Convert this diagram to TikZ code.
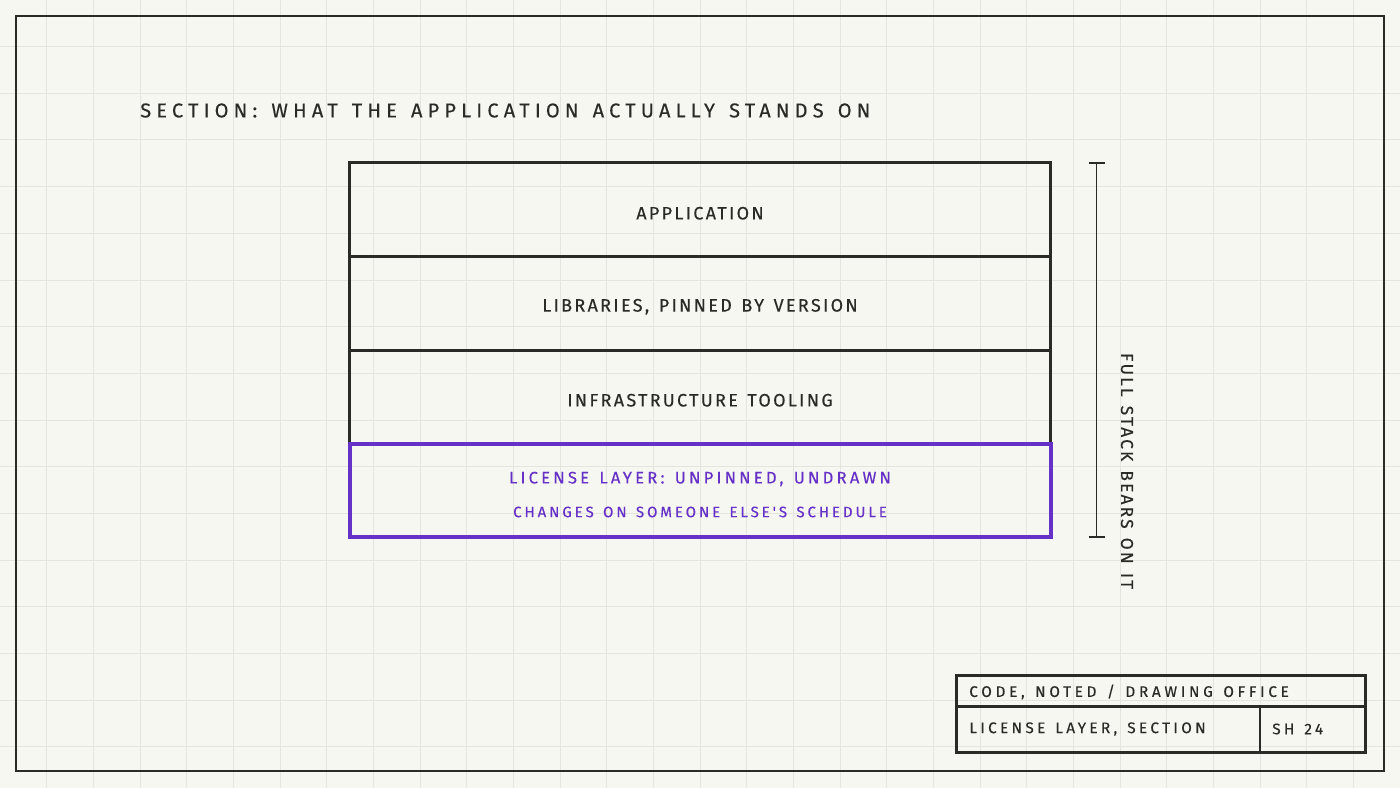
\documentclass[tikz,border=0pt]{standalone}
\usepackage{fontspec}
\setmainfont{Fira Sans}
\newfontfamily\titlef[LetterSpace=25.8, WordSpace=1.35, FakeBold=0.3]{Fira Sans}
\newfontfamily\rowf[LetterSpace=12.8, WordSpace=1.35, FakeBold=0.3]{Fira Sans}
\newfontfamily\licf[LetterSpace=19.2, WordSpace=1.35, FakeBold=0.3]{Fira Sans}
\newfontfamily\brf[LetterSpace=12.5, WordSpace=1.35, FakeBold=0.3]{Fira Sans}
\newfontfamily\blockf[LetterSpace=24.1, WordSpace=1.35, FakeBold=0.3]{Fira Sans}
\newfontfamily\blockg[LetterSpace=21.8, WordSpace=1.35, FakeBold=0.3]{Fira Sans}
\definecolor{bg}{HTML}{F7F7F2}
\definecolor{gridc}{HTML}{E5E5DF}
\definecolor{ink}{HTML}{2A2A26}
\definecolor{purp}{HTML}{6631C6}
\def\px{0.75pt}
\tikzset{
  x=0.75pt, y=-0.75pt,
  rowbox/.style={draw=ink, line width=3*\px, minimum width=701*\px, minimum height=93.5*\px, inner sep=0pt, outer sep=0pt, anchor=north west},
  rowtext/.style={text=ink, font=\rowf\fontsize{13.5pt}{16pt}\selectfont, inner sep=0pt, yshift=-3.5*\px},
  lictext/.style={text=purp, font=\licf\fontsize{12.5pt}{15pt}\selectfont, inner sep=0pt},
  subtext/.style={text=purp, font=\licf\fontsize{11.3pt}{13pt}\selectfont, inner sep=0pt},
  blocktext/.style={text=ink, font=\blockf\fontsize{11.5pt}{14pt}\selectfont, inner sep=0pt, anchor=west},
  blocktextb/.style={text=ink, font=\blockg\fontsize{11.5pt}{14pt}\selectfont, inner sep=0pt, anchor=west},
}
\begin{document}
\begin{tikzpicture}
\fill[bg] (0,0) rectangle (1400,788);
\useasboundingbox (0,0) rectangle (1400,788);
% grid
\foreach \i in {1,...,29} \draw[gridc, line width=1*\px] (\i*46.667,0) -- (\i*46.667,788);
\foreach \j in {1,...,16} \draw[gridc, line width=1*\px] (0,\j*46.667) -- (1400,\j*46.667);
% frame
\draw[ink, line width=2.5*\px] (16,16) rectangle (1384,771);
% title
\node[anchor=west, inner sep=0pt, text=ink, font=\titlef\fontsize{15pt}{18pt}\selectfont] (title) at (140,110.5) {SECTION: WHAT THE APPLICATION ACTUALLY STANDS ON};
% stack
\node[rowbox] (app) at (349.5,163) {};
\node[rowbox] (lib) at (349.5,256.5) {};
\node[rowbox] (infra) at (349.5,350) {};
\node[rowtext] (appt) at (app.center) {APPLICATION};
\node[rowtext] (libt) at (lib.center) {LIBRARIES, PINNED BY VERSION};
\node[rowtext] (infrat) at (infra.center) {INFRASTRUCTURE TOOLING};
\node[draw=purp, line width=4*\px, minimum width=701*\px, minimum height=93.5*\px, inner sep=0pt, outer sep=0pt, anchor=north west] (lic) at (349.5,443.5) {};
\node[lictext] (lict) at (700,479) {LICENSE LAYER: UNPINNED, UNDRAWN};
\node[subtext] (licsub) at (700,512) {CHANGES ON SOMEONE ELSE'S SCHEDULE};
% bracket
\coordinate (bt) at (1096.5,163);
\coordinate (bb) at (1096.5,537);
\draw[ink, line width=1.6*\px] (bt) -- (bb);
\draw[ink, line width=1.6*\px] ([xshift=-8*\px]bt) -- ([xshift=8*\px]bt);
\draw[ink, line width=1.6*\px] ([xshift=-8*\px]bb) -- ([xshift=8*\px]bb);
\node[rotate=-90, text=ink, inner sep=0pt, font=\brf\fontsize{13pt}{16pt}\selectfont] (brt) at (1127,471) {FULL STACK BEARS ON IT};
% title block
\node[draw=ink, line width=2.5*\px, minimum width=409*\px, minimum height=77*\px, inner sep=0pt, outer sep=0pt, anchor=north west] (tb) at (956.5,675.5) {};
\coordinate (hl) at (956.5,706.5);
\coordinate (hr) at (1365.5,706.5);
\coordinate (vt) at (1260,706.5);
\coordinate (vb) at (1260,752.5);
\draw[ink, line width=2.5*\px] (hl) -- (hr);
\draw[ink, line width=2.5*\px] (vt) -- (vb);
\node[blocktext] (tb1) at (969,692) {CODE, NOTED / DRAWING OFFICE};
\node[blocktextb] (tb2) at (969,729) {LICENSE LAYER, SECTION};
\node[blocktextb] (tb3) at (1272,729) {SH 24};
\end{tikzpicture}
\end{document}
